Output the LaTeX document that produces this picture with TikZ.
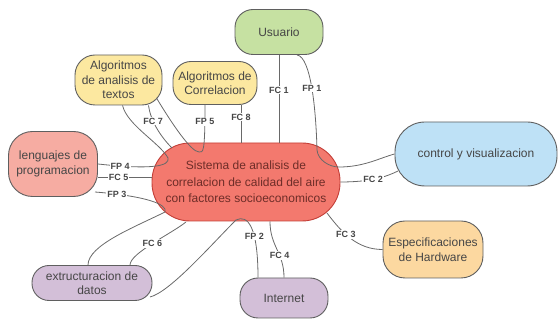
\documentclass[tikz,border=0pt]{standalone}
\usepackage{fontspec}
\setmainfont{Liberation Sans}
\usetikzlibrary{calc}
\usepackage{xcolor}
\definecolor{Edge}{RGB}{95,95,95}
\definecolor{Wire}{RGB}{105,105,105}
\definecolor{Ink}{RGB}{70,70,70}
\definecolor{CoreInk}{RGB}{110,45,40}
\definecolor{CoreFill}{RGB}{243,121,110}
\definecolor{CoreEdge}{RGB}{195,62,55}
\definecolor{Leaf}{RGB}{198,225,162}
\definecolor{Sand}{RGB}{252,232,160}
\definecolor{Sky}{RGB}{190,225,246}
\definecolor{Rose}{RGB}{246,172,162}
\definecolor{Peach}{RGB}{252,216,160}
\definecolor{Lilac}{RGB}{211,191,216}

\begin{document}
\begin{tikzpicture}[x=1pt,y=-1pt,
    topic/.style={rectangle,rounded corners=18pt,draw=Edge,line width=0.9pt,text=Ink,
                  font=\fontsize{12}{14.5}\selectfont,align=center,inner sep=0pt},
    core/.style={rectangle,rounded corners=38pt,draw=CoreEdge,fill=CoreFill,line width=0.9pt,
                 text=CoreInk,font=\fontsize{12}{16.5}\selectfont,align=center,inner sep=0pt},
    link/.style={draw=Wire,line width=0.8pt},
    lbl/.style={font=\fontsize{9}{9}\selectfont\bfseries,text=Ink,fill=white,inner sep=1pt}]

  \useasboundingbox (0,0) rectangle (558,320);

  \node[core, minimum width=188pt, minimum height=78pt] (main) at (246,182)
    {Sistema de analisis de\\correlacion de calidad del aire\\con factores socioeconomicos};
  \node[topic, fill=Leaf, minimum width=88pt, minimum height=45pt] (usr) at (279,32) {Usuario};
  \node[topic, fill=Sand, rounded corners=20pt, minimum width=87pt, minimum height=50pt] (txt) at (118.5,80)
    {Algoritmos\\de analisis de\\textos};
  \node[topic, fill=Sand, minimum width=84pt, minimum height=43pt] (cor) at (215,83)
    {Algoritmos de\\Correlacion};
  \node[topic, fill=Sky, rounded corners=30pt, minimum width=162pt, minimum height=64pt] (ctl) at (476,154)
    {control y visualizacion};
  \node[topic, fill=Rose, rounded corners=24pt, minimum width=89pt, minimum height=65pt] (len) at (53,164)
    {lenguajes de\\programacion};
  \node[topic, fill=Peach, rounded corners=22pt, minimum width=100pt, minimum height=57pt] (hw) at (433,249.5)
    {Especificaciones\\de Hardware};
  \node[topic, fill=Lilac, rounded corners=17pt, minimum width=120pt, minimum height=35pt] (dat) at (92,283)
    {extructuracion de\\datos};
  \node[topic, fill=Lilac, minimum width=88pt, minimum height=40pt] (net) at (284,298) {Internet};

  \draw[link] (usr.south) -- (usr.south |- main.north) node[lbl,pos=0.4]{FC 1};
  \draw[link] ([xshift=18pt]usr.south) .. controls +(14,2) and +(-1,-40) .. ([shift={(71,-32)}]main.center)
    node[lbl,pos=0.5]{FP 1}
    .. controls +(1,10) and +(-10,0) .. ([shift={(93,-15)}]main.center);
  \draw[link] ([shift={(93,-15)}]main.center) .. controls +(25,0) and +(-15,4) .. (ctl.west);
  \draw[link] (main.east) .. controls +(30,0) and +(-12,6) .. ([shift={(-78,17)}]ctl.center)
    node[lbl,pos=0.45]{FC 2};
  \draw[link] ([shift={(81,31)}]main.center) .. controls +(15,20) and +(-25,0) .. (hw.west)
    node[lbl,pos=0.4]{FC 3};
  \draw[link] ([xshift=24pt]main.south) .. controls +(0,25) and +(0,-25) .. (net.north)
    node[lbl,pos=0.63]{FC 4};
  \draw[link] ([xshift=-26pt]net.north) .. controls +(0,-50) and +(12,-6) .. ([shift={(-10,38)}]main.center)
    node[lbl,pos=0.37]{FP 2};
  \draw[link] ([shift={(58,14)}]dat.center) .. controls +(20,-5) and +(-25,25) .. ([shift={(-10,38)}]main.center);
  \draw[link] ([xshift=38pt]dat.north) .. controls +(0,-12) and +(-15,12) .. ([shift={(-60,40)}]main.center)
    node[lbl,pos=0.5]{FC 6};
  \draw[link] ([xshift=-4pt]dat.north) .. controls +(0,-20) and +(-30,15) .. ([shift={(-81,30)}]main.center);
  \draw[link] ([shift={(42,28)}]len.center) .. controls +(50,4) and +(3,-8) .. ([shift={(-81,30)}]main.center)
    node[lbl,pos=0.16]{FP 3};
  \draw[link] ([shift={(45,13)}]len.center) -- ([shift={(-94,-5)}]main.center) node[lbl,pos=0.38]{FC 5};
  \draw[link] (len.east) .. controls +(55,6) and +(2,8) .. ([shift={(-78,-24)}]main.center)
    node[lbl,pos=0.15]{FP 4};
  \draw[link] ([xshift=4pt]txt.south) .. controls +(5,20) and +(-8,-15) .. ([shift={(-78,-24)}]main.center);
  \draw[link] ([xshift=30pt]txt.south) .. controls +(2,15) and +(-12,-12) .. ([shift={(-74,-34)}]main.center)
    node[lbl,pos=0.35]{FC 7};
  \draw[link] ([shift={(38,18)}]txt.center) .. controls +(15,25) and +(-8,0) .. ([shift={(-47,-30)}]main.center);
  \draw[link] ([xshift=-10pt]cor.south) .. controls +(0,50) and +(4,0) .. ([shift={(-47,-30)}]main.center)
    node[lbl,pos=0.13]{FP 5};
  \draw[link] ([xshift=26pt]cor.south) -- ([xshift=26pt]cor.south |- main.north) node[lbl,pos=0.32]{FC 8};
\end{tikzpicture}
\end{document}
